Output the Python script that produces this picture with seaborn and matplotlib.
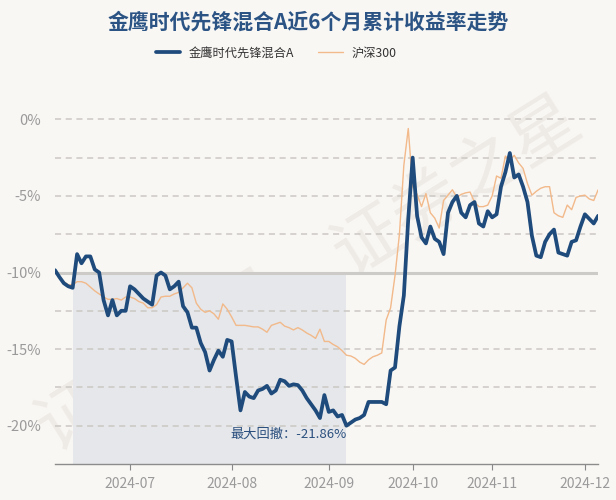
"""
金鹰时代先锋混合A 近6个月累计收益率走势（对比沪深300）。
"""

import numpy as np
import pandas as pd
import matplotlib
matplotlib.use('Agg')
import matplotlib.pyplot as plt
import seaborn as sns

# 交易日（A股休市日剔除）
holidays = ['2024-06-10', '2024-09-16', '2024-09-17',
            '2024-10-01', '2024-10-02', '2024-10-03', '2024-10-04', '2024-10-07']

fund_name = '金鹰时代先锋混合A'
index_name = '沪深300'

# 累计收益率（%）
fund_values = [
    -9.85, -10.3, -10.7, -10.9, -11.0, -8.8, -9.4, -8.95, -8.95, -9.8,
    -10.0, -11.8, -12.8, -11.8, -12.8, -12.5, -12.5, -10.9, -11.1, -11.4,
    -11.7, -11.9, -12.1, -10.2, -10.0, -10.2, -11.1, -10.9, -10.6, -12.2,
    -12.6, -13.6, -13.6, -14.6, -15.2, -16.4, -15.7, -15.1, -15.5, -14.4,
    -14.5, -16.8, -19.0, -17.8, -18.1, -18.2, -17.7, -17.6, -17.4, -17.9,
    -17.7, -17.0, -17.1, -17.4, -17.3, -17.35, -17.7, -18.2, -18.6, -19.0,
    -19.5, -18.0, -19.1, -19.0, -19.4, -19.3, -20.0, -19.8, -19.6, -19.5,
    -19.3, -18.45, -18.45, -18.45, -18.45, -18.6, -16.4, -16.2, -13.5, -11.5,
    -6.5, -2.5, -6.3, -7.7, -8.1, -7.0, -7.8, -8.0, -8.8, -6.1,
    -5.4, -5.0, -6.1, -6.4, -5.6, -5.4, -6.8, -7.0, -6.0, -6.4,
    -6.2, -4.4, -3.45, -2.2, -3.8, -3.6, -4.4, -5.4, -7.6, -8.9,
    -9.0, -8.0, -7.5, -7.2, -8.7, -8.8, -8.9, -8.0, -7.9, -7.0,
    -6.2, -6.5, -6.8, -6.3,
]

index_values = [
    -10.0, -10.3, -10.6, -10.8, -10.8, -10.6, -10.6, -10.7, -10.95, -11.2,
    -11.4, -11.6, -11.75, -11.75, -11.7, -11.8, -11.6, -11.6, -11.7, -11.9,
    -12.0, -12.3, -12.3, -12.1, -11.6, -11.55, -11.55, -11.4, -11.3, -11.0,
    -10.7, -11.0, -12.0, -12.4, -12.6, -12.5, -12.7, -13.05, -12.05, -12.4,
    -12.9, -13.45, -13.45, -13.45, -13.5, -13.55, -13.55, -13.7, -13.9, -13.45,
    -13.35, -13.25, -13.5, -13.6, -13.75, -13.6, -13.75, -13.95, -14.1, -14.3,
    -13.7, -14.5, -14.5, -14.7, -14.85, -15.1, -15.4, -15.45, -15.6, -15.85,
    -16.0, -15.7, -15.5, -15.4, -15.25, -13.1, -12.3, -10.2, -7.5, -3.0,
    -0.6, -4.4, -4.9, -5.7, -4.85, -6.1, -6.45, -7.1, -5.3, -4.95,
    -4.6, -5.1, -4.9, -4.8, -4.75, -5.4, -5.7, -5.7, -5.6, -5.0,
    -3.7, -3.85, -2.4, -2.7, -2.35, -2.85, -3.2, -4.2, -4.95, -4.7,
    -4.5, -4.4, -4.4, -6.1, -6.3, -6.4, -5.6, -5.9, -5.1, -5.0,
    -4.95, -5.2, -5.3, -4.6,
]

drawdown_label = '最大回撤：-21.86%'
drawdown_start = '2024-06-12'
drawdown_end = '2024-09-06'

dates = pd.bdate_range('2024-06-05', '2024-12-31', freq='C',
                       holidays=holidays)[:len(fund_values)]

df = pd.DataFrame({
    'idx': np.arange(len(dates)),
    'date': dates,
    fund_name: fund_values,
    index_name: index_values,
})

# 颜色
bg = '#f9f7f4'
blue = '#1e4b7c'
orange = '#f2b98a'
grid_c = '#cbc8c4'
text_c = '#9a9a9a'

sns.set_style('white')
plt.rcParams['font.family'] = ['Noto Sans CJK SC', 'DejaVu Sans']
plt.rcParams['axes.unicode_minus'] = False

fig = plt.figure(figsize=(6.16, 5.0), dpi=100, facecolor=bg)
ax = fig.add_axes([0.0893, 0.072, 0.8817, 0.766])
ax.set_facecolor('none')

# 水印
for (wx, wy, ws) in [(0.04, 0.07, 50), (0.52, 0.42, 50)]:
    fig.text(wx, wy, '证券之星', fontsize=ws, color='#eeeae5', rotation=32,
             ha='left', va='bottom', zorder=-5)

# 最大回撤区间
i0 = df.index[df['date'] == drawdown_start][0]
i1 = df.index[df['date'] == drawdown_end][0]
ax.fill_between([i0, i1], -22.5, -10, color='#e5e7ea', zorder=0.5, lw=0)

# 网格线
grid_levels = [0, -2.5, -5, -7.5, -12.5, -15, -17.5, -20]
for y in grid_levels:
    ax.plot([0, len(df) - 1], [y, y], color=grid_c, lw=1.1,
            dashes=(4, 3), zorder=1)
ax.axhline(-10, color='#cdcbc8', lw=2.2, zorder=1)

sns.lineplot(data=df, x='idx', y=index_name, ax=ax, color=orange, lw=1.0,
             label=index_name, zorder=3)
sns.lineplot(data=df, x='idx', y=fund_name, ax=ax, color=blue, lw=2.7,
             label=fund_name, zorder=4)

ax.text(i1, -20.55, drawdown_label, ha='right', va='center',
        fontsize=9.5, color='#2a4f7e', zorder=5)

ax.set_xlim(0, len(df) - 1)
ax.set_ylim(-22.5, 2.5)

# x轴：每月第一个交易日
month_first = df.groupby(df['date'].dt.to_period('M'))['idx'].first()
month_first = month_first[month_first.index >= pd.Period('2024-07', 'M')]
ax.set_xticks(month_first.values)
ax.set_xticklabels([str(p) for p in month_first.index])
ax.set_yticks([0, -5, -10, -15, -20])
ax.set_yticklabels(['0%', '-5%', '-10%', '-15%', '-20%'])
ax.tick_params(axis='x', colors='#888888', labelcolor=text_c, labelsize=10,
               length=4, width=0.8, direction='out', pad=5, bottom=True)
ax.tick_params(axis='y', labelcolor=text_c, labelsize=10.5, length=0, pad=10)
ax.set_xlabel('')
ax.set_ylabel('')

for s in ['top', 'right', 'left']:
    ax.spines[s].set_visible(False)
ax.spines['bottom'].set_color('#8c8c8c')
ax.spines['bottom'].set_linewidth(1.0)

# 图例
handles, labels = ax.get_legend_handles_labels()
ax.legend_.remove()
order = [labels.index(fund_name), labels.index(index_name)]
fig.legend([handles[i] for i in order], [labels[i] for i in order],
           loc='center', bbox_to_anchor=(0.448, 0.894), ncol=2, frameon=False,
           fontsize=8.8, handlelength=2.0, columnspacing=2.0, handletextpad=0.7,
           labelcolor='#333333')

fig.text(0.5, 0.956, '金鹰时代先锋混合A近6个月累计收益率走势', ha='center',
         va='center', fontsize=15, fontweight='bold', color='#2b5485')

fig.savefig('out.png', dpi=100, facecolor=bg)
plt.close(fig)
